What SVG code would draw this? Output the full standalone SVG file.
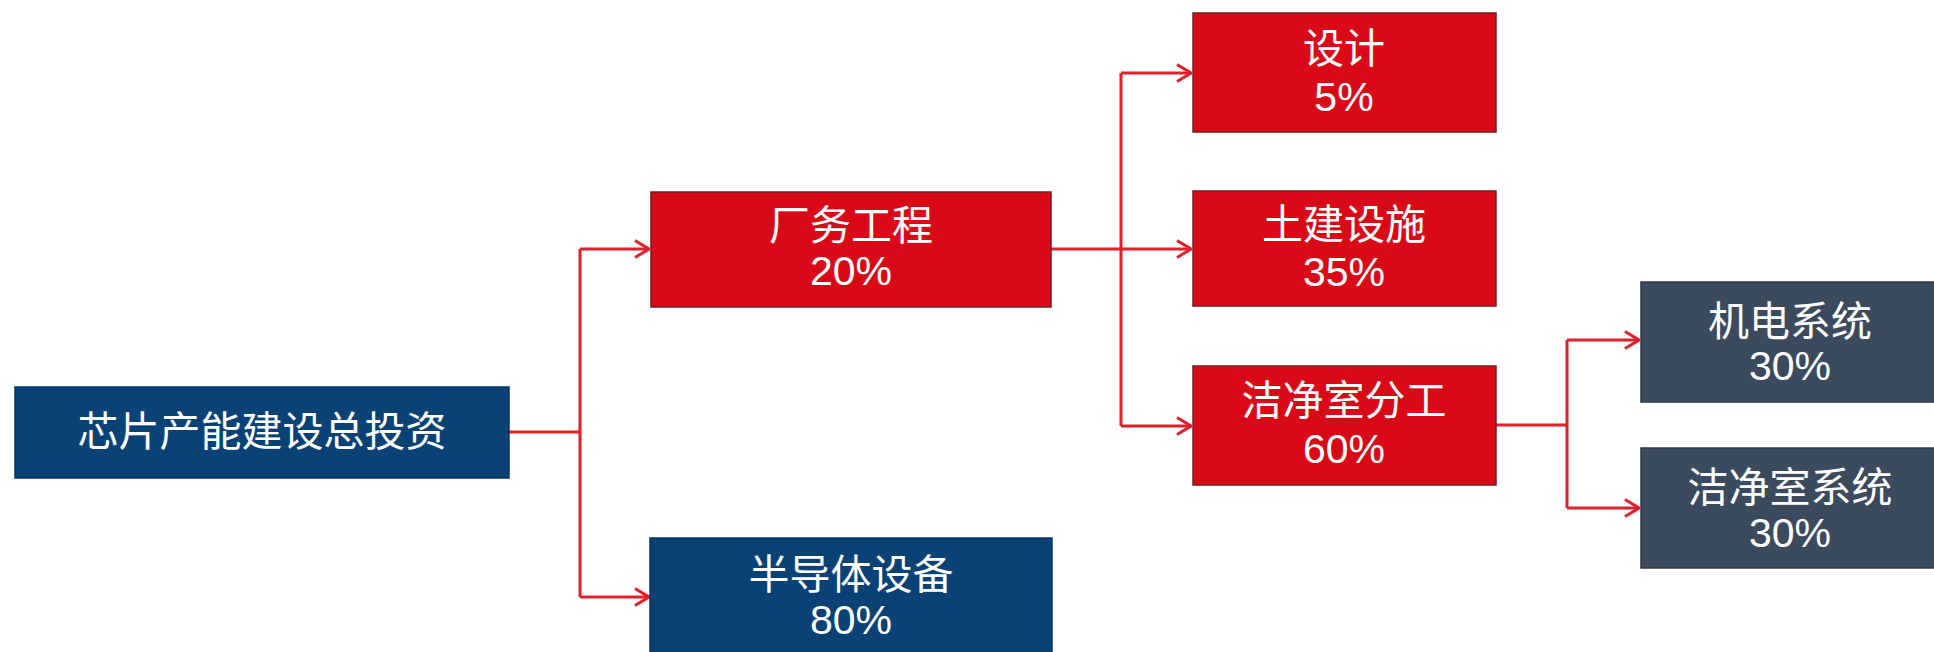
<svg xmlns="http://www.w3.org/2000/svg" width="1934" height="652" viewBox="0 0 1934 652">
<defs>
<marker id="arr" viewBox="0 0 16 20" refX="15" refY="10" markerWidth="16" markerHeight="20" markerUnits="userSpaceOnUse" orient="auto">
<path d="M1,1.5 L15,10 L1,18.5" fill="none" stroke="#e0202a" stroke-width="3" stroke-linejoin="miter"/>
</marker>
<style>
.blue{fill:#0b4276;stroke:#0a3560;stroke-width:1.5}
.red{fill:#d90a17;stroke:#7a1a22;stroke-width:1.5}
.gray{fill:#3b4a5d;stroke:#2c3847;stroke-width:1.5}
.t{font-family:"Liberation Sans","Noto Sans CJK SC",sans-serif;font-size:41px;fill:#ffffff;text-anchor:middle;dominant-baseline:central}
.c{fill:none;stroke:#e0202a;stroke-width:3}
</style>
</defs>
<rect width="1934" height="652" fill="#ffffff"/>
<g id="connectors">
<path class="c" d="M509,432 H580"/>
<path class="c" d="M580,249 V597"/>
<path class="c" d="M580,249 H649" marker-end="url(#arr)"/>
<path class="c" d="M580,597 H649" marker-end="url(#arr)"/>
<path class="c" d="M1051,249 H1121"/>
<path class="c" d="M1121,73 V426"/>
<path class="c" d="M1121,73 H1191" marker-end="url(#arr)"/>
<path class="c" d="M1121,249 H1191" marker-end="url(#arr)"/>
<path class="c" d="M1121,426 H1191" marker-end="url(#arr)"/>
<path class="c" d="M1496,425 H1567"/>
<path class="c" d="M1567,340 V508"/>
<path class="c" d="M1567,340 H1639" marker-end="url(#arr)"/>
<path class="c" d="M1567,508 H1639" marker-end="url(#arr)"/>
</g>
<g id="root">
<rect class="blue" x="15" y="387" width="494" height="91"/>
<text class="t" x="262" y="432">芯片产能建设总投资</text>
</g>
<g id="changwu">
<rect class="red" x="651" y="192" width="400" height="115"/>
<text class="t" x="851" y="226">厂务工程</text>
<text class="t" x="851" y="271">20%</text>
</g>
<g id="bandaoti">
<rect class="blue" x="650" y="538" width="402" height="120"/>
<text class="t" x="851" y="575">半导体设备</text>
<text class="t" x="851" y="620">80%</text>
</g>
<g id="sheji">
<rect class="red" x="1193" y="13" width="303" height="119"/>
<text class="t" x="1344" y="49">设计</text>
<text class="t" x="1344" y="97">5%</text>
</g>
<g id="tujian">
<rect class="red" x="1193" y="191" width="303" height="115"/>
<text class="t" x="1344" y="225">土建设施</text>
<text class="t" x="1344" y="272">35%</text>
</g>
<g id="jiejingshi">
<rect class="red" x="1193" y="366" width="303" height="119"/>
<text class="t" x="1344" y="401">洁净室分工</text>
<text class="t" x="1344" y="449">60%</text>
</g>
<g id="jidian">
<rect class="gray" x="1641" y="282" width="300" height="120"/>
<text class="t" x="1790" y="322">机电系统</text>
<text class="t" x="1790" y="366">30%</text>
</g>
<g id="jiejingxitong">
<rect class="gray" x="1641" y="448" width="300" height="120"/>
<text class="t" x="1790" y="488">洁净室系统</text>
<text class="t" x="1790" y="533">30%</text>
</g>
</svg>
